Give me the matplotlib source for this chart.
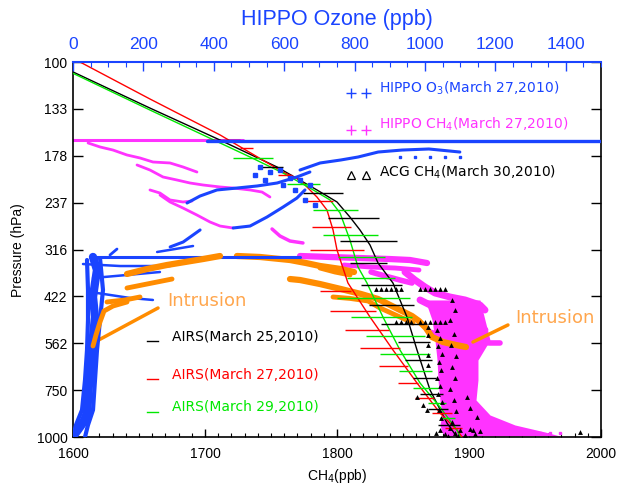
import numpy as np
import matplotlib
matplotlib.use("Agg")
import matplotlib.pyplot as plt
from matplotlib.ticker import MultipleLocator, NullLocator, FixedLocator

# colours
BLUE = '#1a44ff'
MAG = '#ff33ff'
ORANGE = '#ff8c00'
ORANGE_TXT = '#ffa64d'
GREEN = '#00e800'
RED = '#ff0000'

# ---------------- AIRS profiles (CH4 ppb, pressure hPa) ----------------
airs25_ch4 = [1600, 1658.3, 1711.4, 1754.5, 1784.8, 1800, 1809.8, 1817.4, 1825.0,
              1831.1, 1842.4, 1853.0, 1860.6, 1870.5, 1883.3, 1890.9]
airs25_p = [106.3, 132.7, 161.5, 190.5, 219.4, 236.2, 259.1, 280.5, 307.6,
            343.6, 388.5, 478.6, 586.1, 749.4, 917.4, 1000]
airs27_ch4 = [1605.3, 1658.3, 1711.4, 1759.1, 1772.0, 1784.8, 1792.4, 1797.0, 1800,
              1808.3, 1825.0, 1842.4, 1860.6, 1878.0, 1890.9, 1894.7]
airs27_p = [100, 125.5, 156.5, 196.5, 206.4, 229.1, 248.1, 280.5, 317.2,
            388.5, 478.6, 586.1, 717.8, 862.9, 957.9, 1000]
airs29_ch4 = [1600, 1658.3, 1711.4, 1734.1, 1759.1, 1779.5, 1794.7, 1802.3, 1809.8,
              1815.9, 1822.7, 1834.8, 1847.7, 1862.9, 1878.0, 1890.9, 1893.2]
airs29_p = [107.2, 134.3, 164.4, 179.2, 197.7, 216.8, 233.3, 252.7, 298.3,
            352.1, 388.5, 478.6, 586.1, 717.8, 831.8, 957.9, 1000]

# AIRS error bars: pressure, low, high
bar25_p = [161.5, 190.5, 223.6, 260.6, 300.2, 343.6, 393.3, 444.6, 499.6, 558.1, 623.3, 696.1, 767.9, 842.0, 928.8]
bar25_lo = [1701.5, 1741.7, 1774.2, 1793.2, 1802.3, 1809.9, 1818.2, 1824.2, 1833.3, 1846.2, 1851.5, 1857.6, 1862.9, 1868.9, 1876.5]
bar25_hi = [1726.5, 1759.1, 1804.5, 1831.8, 1845.5, 1837.9, 1849.2, 1858.3, 1865.9, 1870.5, 1872.0, 1875.0, 1880.3, 1884.1, 1893.2]
bar27_p = [169.6, 200.1, 234.8, 275.4, 317.2, 408.0, 461.3, 518.4, 578.9, 646.7, 717.8, 787.1, 862.9, 946.0]
bar27_lo = [1726.5, 1755.3, 1775.0, 1781.1, 1779.6, 1787.1, 1794.7, 1806.1, 1817.4, 1831.8, 1846.2, 1859.1, 1872.0, 1881.8]
bar27_hi = [1736.4, 1765.9, 1797.0, 1810.6, 1820.5, 1810.6, 1829.5, 1839.4, 1847.7, 1853.8, 1861.4, 1873.5, 1887.1, 1894.7]
bar29_p = [180.3, 211.5, 248.1, 289.3, 331.1, 376.7, 425.9, 478.6, 538.0, 600.7, 666.8, 740.2, 811.6, 889.8]
bar29_lo = [1721.2, 1762.1, 1781.8, 1789.4, 1800.8, 1807.6, 1800.0, 1810.6, 1822.0, 1832.6, 1847.0, 1857.6, 1868.9, 1878.0]
bar29_hi = [1751.5, 1787.1, 1815.9, 1831.1, 1836.4, 1843.9, 1855.3, 1856.8, 1866.7, 1870.5, 1872.0, 1876.5, 1882.6, 1889.4]

# ---------------- HIPPO O3 (ppb, hPa) traces ----------------
o3_level_o3 = [381, 1497]
o3_level_p = [162.5, 162.5]
o3_low_o3 = [48, 645]
o3_low_p = [331.1, 331.1]
o3_col_o3 = [56.8, 68.2, 62.5, 56.8, 62.5, 56.8, 54.0, 51.1, 45.5, 42.6, 39.8, 28.4, 14.2, 5.7]
o3_col_p = [331.1, 358.7, 388.5, 423.3, 478.6, 541.2, 586.1, 650.7, 717.8, 796.8, 862.9, 917.4, 957.9, 981.8]
o3_colL_o3 = [39.8, 42.6, 42.6, 39.8, 34.1, 25.6, 8.5, 0]
o3_colL_p = [337.3, 405.5, 487.5, 586.1, 704.7, 847.2, 928.8, 1000]
o3_colR_o3 = [76.7, 85.2, 76.7, 68.2, 62.5, 56.8, 42.6, 34.1]
o3_colR_p = [333.2, 405.5, 487.5, 586.1, 704.7, 847.2, 928.8, 1000]
o3_s1_o3 = [28.4, 134, 276]
o3_s1_p = [345.7, 350.0, 350.0]
o3_s2_o3 = [56.8, 153, 247]
o3_s2_p = [376.7, 369.8, 363.1]
o3_s3_o3 = [68.2, 162, 227]
o3_s3_p = [413.0, 425.9, 431.1]
o3_s4_o3 = [105, 125]
o3_s4_p = [327.1, 315.3]
o3_u1_o3 = [324, 361, 409, 466, 523, 580, 636, 673]
o3_u1_p = [237.7, 227.7, 219.4, 216.8, 214.1, 210.2, 202.6, 196.5]
o3_u2_o3 = [455, 503, 551, 597, 636, 659]
o3_u2_p = [277.1, 273.8, 259.1, 243.6, 230.6, 219.4]
o3_u3_o3 = [276, 313, 341, 361]
o3_u3_p = [311.3, 302.0, 289.3, 280.5]
o3_u4_o3 = [239, 290, 341]
o3_u4_p = [321.1, 315.3, 309.5]
o3_up_o3 = [645, 702, 761, 810, 867, 935, 1011, 1099]
o3_up_p = [194.1, 185.9, 182.5, 179.2, 173.8, 171.7, 170.6, 173.8]
o3_dots_o3 = [929, 972, 1014, 1057, 1099]
o3_dots_p = [179.2, 179.2, 179.2, 179.2, 179.2]
o3_cl_o3 = [531, 560, 588, 617, 545, 597, 645, 673, 631, 659, 688, 517]
o3_cl_p = [190.5, 196.5, 194.1, 203.9, 206.4, 212.8, 206.4, 212.8, 219.4, 233.3, 240.6, 200.1]

# intrusion (ozone) bands
oi_a_o3 = [153.4, 210.2, 267.1, 318.2, 369.3, 417.6]
oi_a_p = [367.5, 356.5, 347.8, 341.5, 335.3, 329.1]
oi_b_o3 = [153.4, 210.2, 281.3]
oi_b_p = [400.6, 390.9, 379.1]
oi_c_o3 = [96.6, 147.7, 190.3]
oi_c_p = [436.5, 431.1, 423.3]
oi_d_o3 = [56.8, 65.3, 76.7, 88.1, 113.6, 153.4]
oi_d_p = [571.8, 534.6, 493.5, 461.3, 447.4, 436.5]

# ---------------- HIPPO CH4 (ppb, hPa) traces ----------------
ch4_level_ch4 = [1600, 1728.8]
ch4_level_p = [161.5, 161.5]
ch4_m1 = [1611.4, 1620.5, 1630.3, 1640.9, 1650.8, 1660.6, 1673.5, 1683.3, 1693.9]
ch4_m1_p = [164.4, 168.5, 171.7, 177.0, 180.3, 184.8, 185.9, 190.5, 196.5]
ch4_m2 = [1648.5, 1658.3, 1668.2, 1678.8, 1688.6, 1698.5, 1711.4, 1721.2, 1734.1, 1743.2, 1749.2]
ch4_m2_p = [188.2, 194.1, 202.6, 206.4, 210.2, 212.8, 215.4, 216.8, 219.4, 222.2, 229.1]
ch4_m3 = [1658.3, 1665.9, 1673.5, 1683.3, 1690.2]
ch4_m3_p = [219.4, 223.6, 233.3, 236.2, 234.8]
ch4_m4 = [1665.9, 1673.5, 1683.3, 1693.9, 1703.8, 1711.4, 1721.2]
ch4_m4_p = [226.3, 236.2, 245.1, 255.9, 267.1, 273.8, 277.1]
ch4_m5 = [1750.8, 1756.8, 1764.4, 1774.2]
ch4_m5_p = [278.8, 291.1, 300.2, 303.8]
ch4_m7 = [1772.0, 1794.7, 1817.4, 1840.2, 1855.3, 1868.2]
ch4_m7_p = [329.1, 331.1, 333.2, 335.3, 337.3, 343.6]
ch4_m7b = [1805.3, 1825.0, 1843.9, 1862.1]
ch4_m7b_p = [347.8, 352.1, 354.3, 358.7]
ch4_m16 = [1825.8, 1836.4, 1847.7, 1856.8]
ch4_m16_p = [363.1, 372.1, 381.4, 388.5]
ch4_m8 = [1851.5, 1859.1, 1866.7, 1874.2, 1885.6, 1897.0, 1908.3, 1912.1]
ch4_m8_p = [363.1, 381.4, 398.2, 413.0, 423.3, 431.1, 444.6, 458.5]
ch4_m9 = [1862.9, 1870.5, 1881.8, 1893.2, 1904.5, 1912.1]
ch4_m9_p = [431.1, 444.6, 464.2, 481.6, 502.7, 518.4]
ch4_m10 = [1870.5, 1881.8, 1893.2, 1904.5, 1915.9, 1923.5]
ch4_m10_p = [524.8, 541.2, 551.2, 558.1, 561.4, 561.4]
ch4_dots = [1936.4, 1945.5, 1953.8, 1961.4, 1968.9]
ch4_dots_p = [975.7, 975.7, 975.7, 975.7, 975.7]
# envelope of the dense lower CH4 cloud
env_p = [431.1, 487.5, 551.2, 623.3, 704.7, 796.8, 873.6, 928.8, 969.8, 993.9]
env_lo = [1866.7, 1872.0, 1874.2, 1875.8, 1876.5, 1878.0, 1879.5, 1878.0, 1879.5, 1881.8]
env_hi = [1908.3, 1912.1, 1915.9, 1906.8, 1906.8, 1905.3, 1915.9, 1934.8, 1957.6, 1968.9]

# intrusion (CH4) bands
ci_top = [1724.2, 1741.7, 1764.4, 1776.5, 1787.1, 1803.0, 1812.9]
ci_top_p = [329.1, 331.1, 337.3, 343.6, 349.9, 356.5, 363.1]
ci_main = [1764.4, 1772.0, 1787.1, 1803.0, 1818.2, 1831.1, 1841.7, 1849.2, 1856.8,
           1862.1, 1867.4, 1872.0, 1880.3, 1890.2, 1897.7]
ci_main_p = [379.1, 381.4, 390.9, 403.1, 415.6, 428.5, 447.4, 461.3, 475.7,
             490.5, 512.2, 541.2, 558.1, 568.4, 575.5]
ci_c = [1787.1, 1798.5, 1809.9]
ci_c_p = [354.3, 363.1, 369.8]
ci_d = [1797.0, 1809.9, 1823.5, 1832.6, 1847.7, 1857.6]
ci_d_p = [423.3, 427.0, 433.8, 452.9, 478.6, 496.6]

# ---------------- ACG CH4 (March 30) ----------------
acg_ch4 = [1829.5, 1833.3, 1837.1, 1840.9, 1844.7, 1848.5, 1862.9, 1866.7, 1870.5, 1874.2, 1878.0, 1881.8,
           1844.7, 1848.5, 1852.3, 1856.1, 1862.9, 1866.7, 1870.5, 1874.2, 1878.0, 1881.8,
           1875.8, 1878.0, 1876.5, 1879.5, 1877.3, 1878.8, 1875.8, 1878.0, 1876.5, 1879.5, 1877.3, 1878.8,
           1887.1, 1889.4, 1885.6, 1888.6, 1886.4, 1890.2, 1887.1, 1889.4, 1885.6, 1888.6, 1890.2, 1887.1,
           1868.9, 1868.9, 1868.9, 1868.9, 1868.9,
           1860.6, 1865.2, 1868.2, 1898.5, 1900.8, 1906.1, 1903.0,
           1878.0, 1881.8, 1885.6, 1889.4, 1893.2, 1897.0, 1900.8, 1904.5, 1908.3, 1884.1, 1891.7, 1875.0,
           1984.1]
acg_p = [403.1, 403.1, 403.1, 403.1, 403.1, 403.1, 403.1, 403.1, 403.1, 403.1, 403.1, 403.1,
         493.5, 493.5, 493.5, 493.5, 493.5, 493.5, 493.5, 493.5, 493.5, 493.5,
         518.4, 544.6, 571.8, 600.7, 631.0, 662.8, 696.1, 731.1, 767.9, 806.6, 847.2, 889.8,
         431.1, 458.5, 487.5, 531.3, 568.4, 608.1, 650.7, 696.1, 744.7, 796.8, 852.3, 912.0,
         509.0, 534.6, 568.4, 604.4, 642.7,
         782.3, 821.6, 847.2, 782.3, 836.9, 884.3, 957.9,
         957.9, 981.8, 946.0, 975.7, 957.9, 987.8, 951.9, 981.8, 963.9, 993.9, 993.9, 975.7,
         969.8]

ytick_vals = [100, 133.35, 177.83, 237.14, 316.23, 421.70, 562.34, 749.89, 1000]
ytick_labels = ['100', '133', '178', '237', '316', '422', '562', '750', '1000']

plt.rcParams['font.family'] = ['Liberation Sans', 'DejaVu Sans']

fig = plt.figure(figsize=(6.26, 4.9), dpi=100)
ax = fig.add_axes([73 / 626, 1 - 437 / 490, 528 / 626, 375 / 490])
ax2 = ax.twiny()

ax.set_yscale('log')
ax.set_xlim(1600, 2000)
ax.set_ylim(1000, 100)
ax2.set_xlim(0, 1500)

band = dict(solid_capstyle='round', solid_joinstyle='round')

# CH4 clouds
ax.fill_betweenx(env_p, env_lo, env_hi, color=MAG, lw=0, zorder=2)
for xs, ps, lw in [(ch4_level_ch4, ch4_level_p, 2.2), (ch4_m1, ch4_m1_p, 2), (ch4_m2, ch4_m2_p, 2),
                   (ch4_m3, ch4_m3_p, 2), (ch4_m4, ch4_m4_p, 2), (ch4_m5, ch4_m5_p, 2.5),
                   (ch4_m7, ch4_m7_p, 4.5), (ch4_m7b, ch4_m7b_p, 3.5), (ch4_m16, ch4_m16_p, 4),
                   (ch4_m8, ch4_m8_p, 5), (ch4_m9, ch4_m9_p, 5), (ch4_m10, ch4_m10_p, 4)]:
    ax.plot(xs, ps, color=MAG, lw=lw, zorder=2, **band)
ax.plot(ch4_dots, ch4_dots_p, 's', color=MAG, ms=1.5, zorder=2)

# O3 clouds (top axis)
for xs, ps, lw in [(o3_level_o3, o3_level_p, 2.4), (o3_low_o3, o3_low_p, 2.2),
                   (o3_col_o3, o3_col_p, 6), (o3_colL_o3, o3_colL_p, 3), (o3_colR_o3, o3_colR_p, 3),
                   (o3_s1_o3, o3_s1_p, 1.8), (o3_s2_o3, o3_s2_p, 1.8), (o3_s3_o3, o3_s3_p, 1.8),
                   (o3_s4_o3, o3_s4_p, 2), (o3_u1_o3, o3_u1_p, 2.2), (o3_u2_o3, o3_u2_p, 2.2),
                   (o3_u3_o3, o3_u3_p, 2.2), (o3_u4_o3, o3_u4_p, 1.8), (o3_up_o3, o3_up_p, 2.2)]:
    ax2.plot(xs, ps, color=BLUE, lw=lw, zorder=2, **band)
ax2.plot(o3_dots_o3, o3_dots_p, 's', color=BLUE, ms=2, zorder=2)
ax2.plot(o3_cl_o3, o3_cl_p, 's', color=BLUE, ms=3, zorder=2)

# intrusion bands
for xs, ps, lw in [(oi_a_o3, oi_a_p, 4.5), (oi_b_o3, oi_b_p, 3.5), (oi_c_o3, oi_c_p, 3.5), (oi_d_o3, oi_d_p, 3.5)]:
    ax2.plot(xs, ps, color=ORANGE, lw=lw, zorder=3, **band)
for xs, ps, lw in [(ci_top, ci_top_p, 4.5), (ci_main, ci_main_p, 4.5), (ci_c, ci_c_p, 3.5), (ci_d, ci_d_p, 3.5)]:
    ax.plot(xs, ps, color=ORANGE, lw=lw, zorder=3, **band)

# AIRS profiles and bars
for xs, ps, c in [(airs25_ch4, airs25_p, 'black'), (airs27_ch4, airs27_p, RED), (airs29_ch4, airs29_p, GREEN)]:
    ax.plot(xs, ps, color=c, lw=1.0, zorder=4)
for ps, lo, hi, c in [(bar25_p, bar25_lo, bar25_hi, 'black'), (bar27_p, bar27_lo, bar27_hi, RED),
                      (bar29_p, bar29_lo, bar29_hi, GREEN)]:
    ax.hlines(ps, lo, hi, colors=c, lw=1.0, zorder=4)

# ACG triangles
ax.plot(acg_ch4, acg_p, '^', color='black', ms=3.5, mew=0, zorder=5)

# intrusion annotations
ax.plot([1615.2, 1664.4], [561.5, 452.9], color=ORANGE, lw=2.5, zorder=3, solid_capstyle='round')
ax.text(1671.2, 433.8, 'Intrusion', color=ORANGE_TXT, fontsize=13, family='DejaVu Sans',
        ha='left', va='center', zorder=6)
ax.plot([1903.0, 1929.5], [558.1, 502.7], color=ORANGE, lw=2.5, zorder=3, solid_capstyle='round')
ax.text(1934.8, 481.6, 'Intrusion', color=ORANGE_TXT, fontsize=13, family='DejaVu Sans',
        ha='left', va='center', zorder=6)

# legend-like labels
tr = ax.transAxes
ax.plot([0.5263, 0.5553], [0.9176, 0.9176], '+', color=BLUE, ms=7, mew=1, transform=tr, clip_on=False)
ax.text(0.5792, 0.9307, r'HIPPO O$_3$(March 27,2010)', color=BLUE, fontsize=10, family='DejaVu Sans',
        transform=tr, va='center')
ax.plot([0.5263, 0.5553], [0.8197, 0.8197], '+', color=MAG, ms=7, mew=1, transform=tr)
ax.text(0.5792, 0.8333, r'HIPPO CH$_4$(March 27,2010)', color=MAG, fontsize=10, family='DejaVu Sans',
        transform=tr, va='center')
ax.plot([0.5263, 0.5553], [0.6976, 0.6976], '^', mfc='none', mec='black', ms=6, mew=0.9, transform=tr)
ax.text(0.5792, 0.7067, r'ACG CH$_4$(March 30,2010)', color='black', fontsize=10, family='DejaVu Sans',
        transform=tr, va='center')
for yl, yt, c, lab in [(0.2568, 0.2675, 'black', 'AIRS(March 25,2010)'),
                       (0.1547, 0.1645, RED, 'AIRS(March 27,2010)'),
                       (0.0675, 0.0808, GREEN, 'AIRS(March 29,2010)')]:
    ax.plot([0.1402, 0.161], [yl, yl], color=c, lw=1, transform=tr)
    ax.text(0.1869, yt, lab, color=c, fontsize=10, family='DejaVu Sans', transform=tr, va='center')

# axes styling
ax.yaxis.set_major_locator(FixedLocator(ytick_vals))
ax.yaxis.set_minor_locator(NullLocator())
ax.set_yticklabels(ytick_labels)
ax.xaxis.set_major_locator(MultipleLocator(100))
ax.xaxis.set_minor_locator(MultipleLocator(10))
ax.tick_params(axis='y', which='major', direction='in', length=7, width=1, right=True, labelsize=10, pad=4)
ax.tick_params(axis='x', which='major', direction='in', length=6, width=1, top=False, labelsize=10, pad=7)
ax.tick_params(axis='x', which='minor', direction='in', length=3, width=0.8, top=False)

ax2.xaxis.set_major_locator(MultipleLocator(200))
ax2.xaxis.set_minor_locator(MultipleLocator(50))
ax2.tick_params(axis='x', which='major', direction='in', length=6.5, width=1, colors=BLUE, labelsize=12.5, pad=7)
ax2.tick_params(axis='x', which='minor', direction='in', length=3.5, width=0.8, colors=BLUE)
ax2.spines['top'].set_color(BLUE)
ax2.spines['top'].set_linewidth(1.5)
for s in ['left', 'right', 'bottom']:
    ax.spines[s].set_linewidth(1.2)
    ax2.spines[s].set_visible(False)
ax.spines['top'].set_visible(False)

fig.text(337 / 626, 1 - 19 / 490, 'HIPPO Ozone (ppb)', color=BLUE, fontsize=15.5, ha='center', va='center')
fig.text(337 / 626, 1 - 476 / 490, r'CH$_4$(ppb)', fontsize=10, ha='center', va='center')
fig.text(18 / 626, 1 - 250 / 490, 'Pressure (hPa)', fontsize=10, ha='center', va='center', rotation=90)

fig.savefig('out.png', dpi=100)
